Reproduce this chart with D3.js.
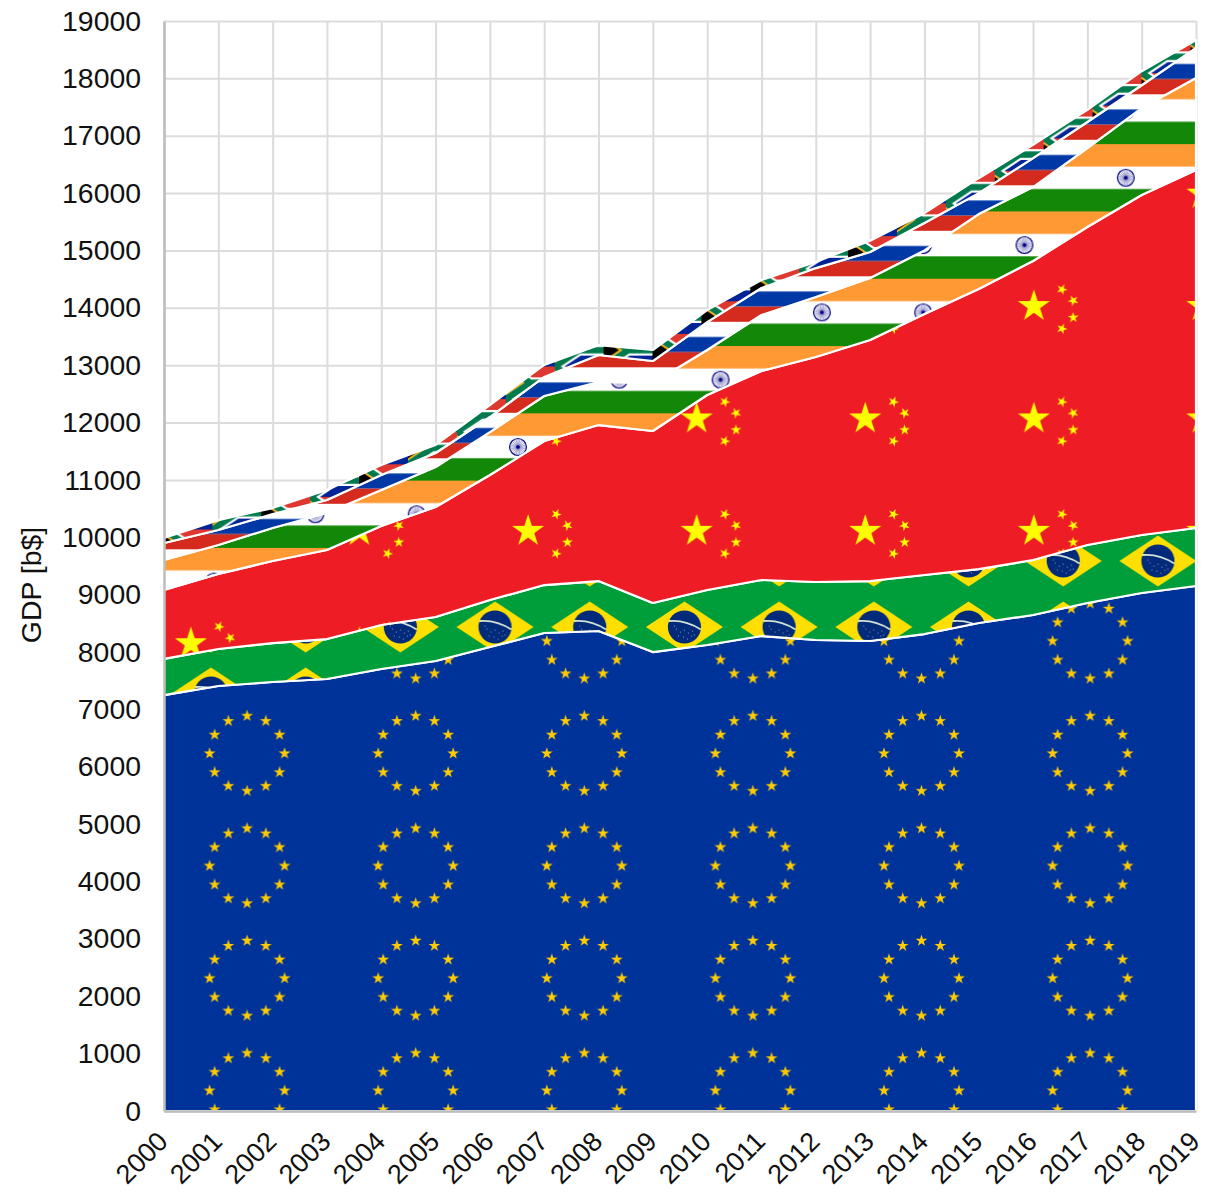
<!DOCTYPE html>
<html>
<head>
<meta charset="utf-8">
<script src="https://cdn.jsdelivr.net/npm/d3@7"></script>
<style>
	html, body { margin: 0; padding: 0; background: #fff; }
	svg { display: block; }
	text { font-family: "Liberation Sans", Arial, sans-serif; fill: #111; }
</style>
</head>
<body>
<div id="nodeContainer"></div>
<script>
var years = [2000,2001,2002,2003,2004,2005,2006,2007,2008,2009,2010,2011,2012,2013,2014,2015,2016,2017,2018,2019];

// GDP per group, in b$
var eu          = [7250,7408,7478,7530,7705,7844,8088,8332,8367,8000,8123,8280,8210,8193,8314,8506,8646,8855,9029,9151];
var brazil      = [630,645,679,697,766,767,819,836,871,855,958,976,1011,1045,1029,941,958,1011,1011,1011];
var china       = [1201,1307,1430,1552,1726,1917,2179,2510,2719,2998,3399,3643,3922,4201,4549,4881,5212,5543,5926,6240];
var india       = [523,506,575,645,628,697,749,785,750,837,785,976,1045,1081,1108,1307,1289,1376,1517,1604];
var russia      = [296,261,243,226,260,245,262,332,471,383,485,470,505,453,478,365,505,455,397,524];
var southAfrica = [90,173,105,175,175,140,208,210,172,192,210,140,107,197,172,260,230,210,245,140];

var yTicks = d3.range(0, 19001, 1000);

var margin = { top: 21, right: 18, bottom: 81, left: 164 };
var fullWidth = 1214;
var fullHeight = 1192;
var width = fullWidth - margin.left - margin.right;
var height = fullHeight - margin.top - margin.bottom;

var keys = ['eu', 'brazil', 'china', 'india', 'russia', 'southAfrica'];
var table = years.map(function(y, i) {
	return {
		year: y,
		eu: eu[i],
		brazil: brazil[i],
		china: china[i],
		india: india[i],
		russia: russia[i],
		southAfrica: southAfrica[i]
	};
});

var xScale = d3.scalePoint().domain(years).range([0, width]);
var yScale = d3.scaleLinear().domain([0, 19000]).range([height, 0]);

var svg = d3.select('#nodeContainer').append('svg')
	.attr('width', fullWidth)
	.attr('height', fullHeight);

var defs = svg.append('defs');

// star of outer radius r, pointing up
function star(g, cx, cy, r, fill, rot) {
	g.append('path')
		.attr('d', d3.symbol().type(d3.symbolStar).size(r * r / 0.8908)())
		.attr('transform', 'translate(' + cx + ',' + cy + ') rotate(' + (rot || 0) + ')')
		.attr('fill', fill);
}

// x, y are page pixels, the pattern itself lives in the plot group
function tile(id, x, y, w, h) {
	return defs.append('pattern')
		.attr('id', id)
		.attr('patternUnits', 'userSpaceOnUse')
		.attr('x', x - margin.left)
		.attr('y', y - margin.top)
		.attr('width', w)
		.attr('height', h);
}

// EU
var euW = 168.6, euH = 112.4;
var pEu = tile('flag-eu', 162.8, 697.3, euW, euH);
pEu.append('rect').attr('width', euW).attr('height', euH).attr('fill', '#003399');
d3.range(12).forEach(function(i) {
	var a = i * Math.PI / 6;
	star(pEu, euW / 2 + 37.5 * Math.sin(a), euH / 2 - 37.5 * Math.cos(a), 6.2, '#ffcc00');
});

// Brazil
var brW = 94.7, brH = 66;
var pBr = tile('flag-brazil', 163.6, 528, brW, brH);
pBr.append('rect').attr('width', brW).attr('height', brH).attr('fill', '#009e3b');
pBr.append('path')
	.attr('d', 'M' + (brW / 2 - 38.5) + ',' + (brH / 2) + 'L' + (brW / 2) + ',' + (brH / 2 - 25.5) + 'L' + (brW / 2 + 38.5) + ',' + (brH / 2) + 'L' + (brW / 2) + ',' + (brH / 2 + 25.5) + 'Z')
	.attr('fill', '#fedf00');
pBr.append('circle').attr('cx', brW / 2).attr('cy', brH / 2).attr('r', 16.6).attr('fill', '#012a7a');
pBr.append('path')
	.attr('d', 'M' + (brW / 2 - 15.6) + ',' + (brH / 2 - 6) + 'Q' + (brW / 2 + 1) + ',' + (brH / 2 - 7.5) + ' ' + (brW / 2 + 16.3) + ',' + (brH / 2 + 2.5))
	.attr('fill', 'none')
	.attr('stroke', '#d3e2d6')
	.attr('stroke-width', 1.8);
[[-8,2],[-4,5],[0,3],[4,6],[8,4],[-6,9],[-1,10],[3,12],[7,9],[-10,-1],[10,8]].forEach(function(d) {
	pBr.append('circle')
		.attr('cx', brW / 2 + d[0])
		.attr('cy', brH / 2 + d[1])
		.attr('r', 0.6)
		.attr('fill', '#8fa6c9');
});

// China
var cnW = 168.6, cnH = 112.4, cnU = cnW / 30;
var pCn = tile('flag-china', 162.8, 615.4, cnW, cnH);
pCn.append('rect').attr('width', cnW).attr('height', cnH).attr('fill', '#ee1c25');
star(pCn, 5 * cnU, 5 * cnU, 3 * cnU, '#ffff00');
[[10,2],[12,4],[12,7],[10,9]].forEach(function(d) {
	var rot = Math.atan2(d[1] - 5, d[0] - 5) * 180 / Math.PI - 90;
	star(pCn, d[0] * cnU, d[1] * cnU, cnU, '#ffff00', rot);
});

// India
var inW = 101.3, inH = 67.3;
var pIn = tile('flag-india', 163.45, 413.35, inW, inH);
pIn.append('rect').attr('width', inW).attr('height', inH).attr('fill', '#ffffff');
pIn.append('rect').attr('width', inW).attr('height', inH / 3).attr('fill', '#ff9933');
pIn.append('rect').attr('y', 2 * inH / 3).attr('width', inW).attr('height', inH / 3).attr('fill', '#138808');
pIn.append('circle').attr('cx', inW / 2).attr('cy', inH / 2).attr('r', 8.4).attr('fill', '#fff').attr('stroke', '#000080').attr('stroke-width', 1.2);
d3.range(24).forEach(function(i) {
	var a = i * Math.PI / 12;
	pIn.append('line')
		.attr('x1', inW / 2)
		.attr('y1', inH / 2)
		.attr('x2', inW / 2 + 8 * Math.cos(a))
		.attr('y2', inH / 2 + 8 * Math.sin(a))
		.attr('stroke', '#000080')
		.attr('stroke-width', 0.35);
});
pIn.append('circle').attr('cx', inW / 2).attr('cy', inH / 2).attr('r', 1.8).attr('fill', '#000080');

// Russia
var ruW = 68.25, ruH = 45.5;
var pRu = tile('flag-russia', 163.5, 48.8, ruW, ruH);
pRu.append('rect').attr('width', ruW).attr('height', ruH).attr('fill', '#ffffff');
pRu.append('rect').attr('y', ruH / 3).attr('width', ruW).attr('height', ruH / 3).attr('fill', '#0039a6');
pRu.append('rect').attr('y', 2 * ruH / 3).attr('width', ruW).attr('height', ruH / 3).attr('fill', '#d52b1e');

// South Africa, drawn on the 90 x 60 flag grid
var zaW = 48.9, zaH = 32.6;
var pZa = tile('flag-za', 163.5, 40.5, zaW, zaH);
var za = pZa.append('g').attr('transform', 'scale(' + (zaW / 90) + ')');
za.append('rect').attr('width', 90).attr('height', 30).attr('fill', '#de3831');
za.append('rect').attr('y', 30).attr('width', 90).attr('height', 30).attr('fill', '#002395');
za.append('path').attr('d', 'M0,0L45,30L0,60M45,30H90').attr('fill', 'none').attr('stroke', '#fff').attr('stroke-width', 20);
za.append('path').attr('d', 'M0,0L45,30L0,60M45,30H90').attr('fill', 'none').attr('stroke', '#007a4d').attr('stroke-width', 12);
za.append('path').attr('d', 'M0,7.2L34.2,30L0,52.8Z').attr('fill', '#ffb612');
za.append('path').attr('d', 'M0,11L28.5,30L0,49Z').attr('fill', '#000');

var flagFor = {
	eu: 'flag-eu',
	brazil: 'flag-brazil',
	china: 'flag-china',
	india: 'flag-india',
	russia: 'flag-russia',
	southAfrica: 'flag-za'
};

var Graph = svg.append('g')
	.attr('transform', 'translate(' + margin.left + ',' + margin.top + ')');

// grid
var hGrid = d3.axisLeft(yScale).tickValues(yTicks).tickSize(-width).tickFormat('');
var hGuide = Graph.append('g').call(hGrid);
hGuide.select('.domain').remove();
hGuide.selectAll('line').attr('stroke', '#dcdcdc').attr('stroke-width', 2);

var vGrid = d3.axisBottom(xScale).tickSize(-height).tickFormat('');
var vGuide = Graph.append('g').attr('transform', 'translate(0,' + height + ')').call(vGrid);
vGuide.select('.domain').remove();
vGuide.selectAll('line').attr('stroke', '#dcdcdc').attr('stroke-width', 2);

// stacked areas
var stack = d3.stack().keys(keys);
var area = d3.area()
	.x(function(d) { return xScale(d.data.year); })
	.y0(function(d) { return yScale(d[0]); })
	.y1(function(d) { return yScale(d[1]); });

Graph.selectAll('path.layer')
	.data(stack(table))
	.enter().append('path')
		.classed('layer', true)
		.attr('d', area)
		.attr('fill', function(d) { return 'url(#' + flagFor[d.key] + ')'; })
		.attr('stroke', '#fff')
		.attr('stroke-width', 2.2)
		.attr('stroke-linejoin', 'round');

// y axis
var vAxis = d3.axisLeft(yScale).tickValues(yTicks).tickSize(0).tickPadding(23).tickFormat(d3.format('d'));
var yGuide = Graph.append('g').call(vAxis);
yGuide.select('.domain').attr('stroke', '#bdbdbd').attr('stroke-width', 2.5);
yGuide.selectAll('text').attr('font-size', 28.4);

// x axis
var hAxis = d3.axisBottom(xScale).tickSize(0).tickFormat(d3.format('d'));
var xGuide = Graph.append('g').attr('transform', 'translate(0,' + height + ')').call(hAxis);
xGuide.select('.domain').attr('stroke', '#bdbdbd').attr('stroke-width', 2.5);
xGuide.selectAll('text')
	.attr('font-size', 27)
	.attr('text-anchor', 'end')
	.attr('dx', 0)
	.attr('dy', 0)
	.attr('x', 5)
	.attr('y', 32)
	.attr('transform', function() {
		return 'rotate(-45 5 32)';
	});

svg.append('text')
	.attr('transform', 'translate(41,585) rotate(-90)')
	.attr('text-anchor', 'middle')
	.attr('font-size', 28.4)
	.text('GDP [b$]');
</script>
</body>
</html>
